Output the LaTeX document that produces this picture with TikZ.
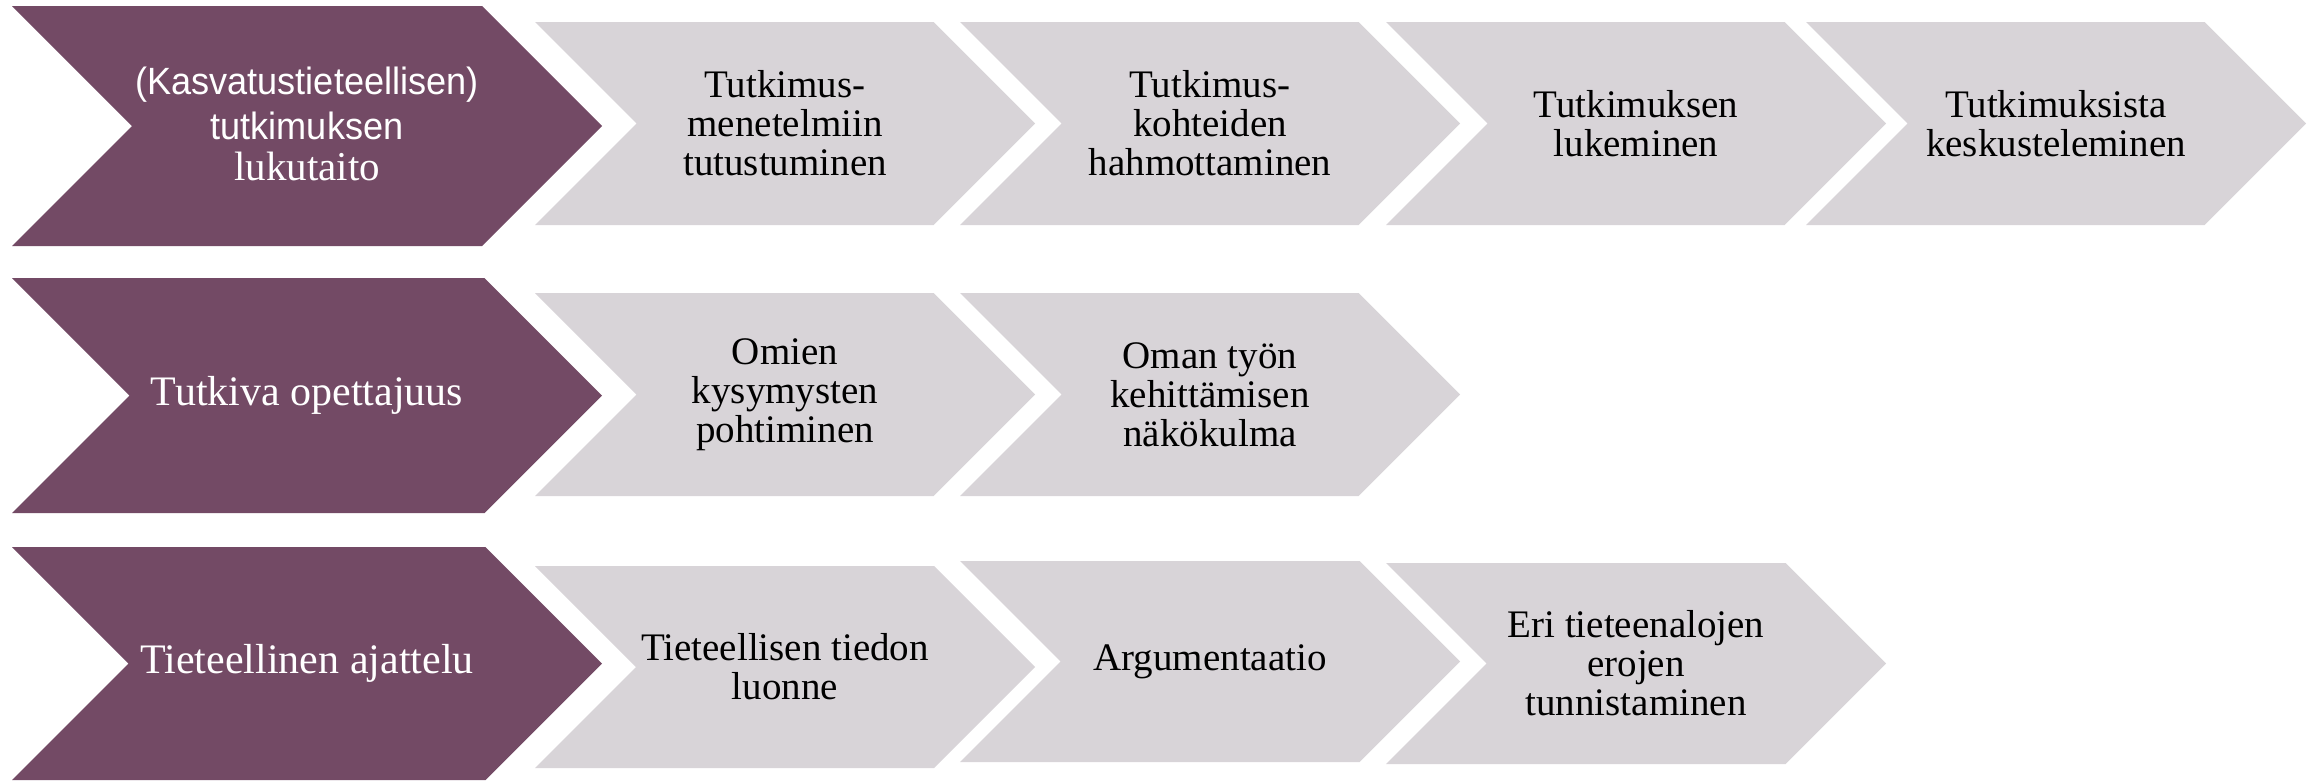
\documentclass[tikz,border=0pt]{standalone}
\usepackage{fontspec}
\setmainfont{Liberation Serif}
\newfontfamily\narrowsans[FakeStretch=0.95]{Liberation Sans}
\definecolor{plum}{HTML}{734A65}
\definecolor{lightgrey}{HTML}{D8D4D8}
\newcommand{\chev}[6]{% #1 fill, #2 left, #3 top, #4 bottom, #5 tip x, #6 name
  \pgfmathsetmacro\hh{(#4-#3)/2}
  \fill[#1] (#2,#3) -- ({#5-\hh},#3) -- (#5,{#3+\hh}) -- ({#5-\hh},#4) -- (#2,#4) -- ({#2+\hh},{#3+\hh}) -- cycle;
  \coordinate (#6) at ({(#2+#5)/2},{#3+\hh});
}
\tikzset{
  greytext/.style={align=center, text=black, inner sep=0pt, font=\fontsize{39}{39}\selectfont},
  plumtext/.style={align=center, text=white, inner sep=0pt, font=\fontsize{42}{42}\selectfont},
}
\begin{document}
\begin{tikzpicture}[x=1pt, y=-1pt]
\useasboundingbox[fill=white] (0,0) rectangle (2318,780);
% Row 1
\chev{plum}{12}{6}{246}{602}{p1}
\chev{lightgrey}{535}{22}{225}{1035}{c11}
\chev{lightgrey}{960}{22}{225}{1460}{c12}
\chev{lightgrey}{1386}{22}{225}{1886}{c13}
\chev{lightgrey}{1806}{22}{225}{2306}{c14}
\node[plumtext, font=\fontsize{38}{41}\selectfont] (t1) at ([yshift=2]p1) {{\narrowsans (Kasvatustieteellisen)}\\[4pt]{\narrowsans tutkimuksen}\\{\fontsize{41}{41}\selectfont lukutaito}};
\node[greytext] (t11) at (c11) {Tutkimus-\\menetelmiin\\tutustuminen};
\node[greytext] (t12) at (c12) {Tutkimus-\\kohteiden\\hahmottaminen};
\node[greytext] (t13) at (c13) {Tutkimuksen\\lukeminen};
\node[greytext] (t14) at (c14) {Tutkimuksista\\keskusteleminen};
% Row 2
\chev{plum}{12}{278}{513}{602}{p2}
\chev{lightgrey}{535}{293}{496}{1035}{c21}
\chev{lightgrey}{960}{293}{496}{1460}{c22}
\node[plumtext] (t2) at (p2) {Tutkiva opettajuus};
\node[greytext] (t21) at (c21) {Omien\\kysymysten\\pohtiminen};
\node[greytext] (t22) at (c22) {Oman työn\\kehittämisen\\näkökulma};
% Row 3
\chev{plum}{12}{547}{780}{602}{p3}
\chev{lightgrey}{535}{566}{768}{1035}{c31}
\chev{lightgrey}{960}{561}{762}{1460}{c32}
\chev{lightgrey}{1386}{563}{764}{1886}{c33}
\node[plumtext] (t3) at (p3) {Tieteellinen ajattelu};
\node[greytext] (t31) at (c31) {Tieteellisen tiedon\\luonne};
\node[greytext] (t32) at (c32) {Argumentaatio};
\node[greytext] (t33) at (c33) {Eri tieteenalojen\\erojen\\tunnistaminen};
\end{tikzpicture}
\end{document}
